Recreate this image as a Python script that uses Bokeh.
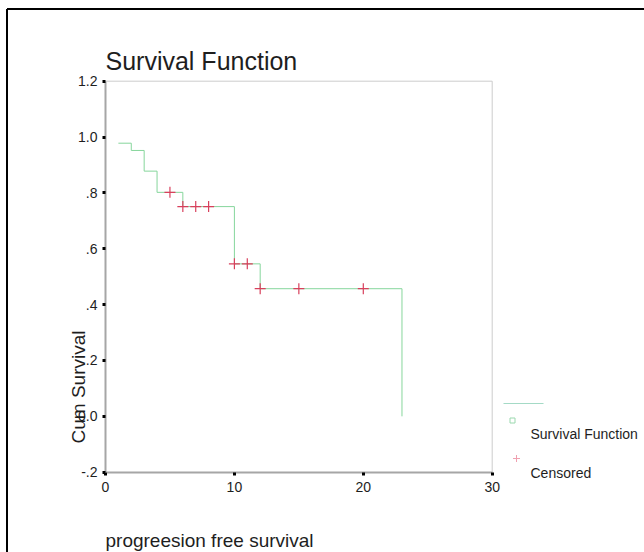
import math
from bokeh.plotting import figure
from bokeh.models import Range1d, FixedTicker, Label
from bokeh.embed import file_html
from bokeh.resources import INLINE

# ---- data ----
step_times = [1, 2, 3, 4, 6, 10, 12, 23]
step_surv = [0.978, 0.952, 0.878, 0.802, 0.751, 0.546, 0.457, 0.0]
cens_times = [5, 6, 7, 8, 10, 11, 12, 15, 20]
cens_surv = [0.802, 0.751, 0.751, 0.751, 0.546, 0.546, 0.457, 0.457, 0.457]
x_ticks = [0, 10, 20, 30]
y_ticks = [-0.2, 0.0, 0.2, 0.4, 0.6, 0.8, 1.0, 1.2]
y_tick_labels = ["-.2", "0.0", ".2", ".4", ".6", ".8", "1.0", "1.2"]
legend_labels = ["Survival Function", "Censored"]
title_text = "Survival Function"
x_title = "progreesion free survival"
y_title = "Cum Survival"

# ---- layout (pixel geometry of the plotting box) ----
W, H = 644, 552
FRAME_L, FRAME_R = 105.0, 491.7
FRAME_T, FRAME_B = 80.7, 471.7
X0, X1 = x_ticks[0], x_ticks[-1]
Y0, Y1 = y_ticks[0], y_ticks[-1]
PXX = (FRAME_R - FRAME_L) / (X1 - X0)
PXY = (FRAME_B - FRAME_T) / (Y1 - Y0)


def dx(px):
    return X0 + (px - FRAME_L) / PXX


def dy(py):
    return Y0 + (FRAME_B - py) / PXY


FONT = "Liberation Sans"
GREEN = "#86d69c"
RED = "#d8405c"
TXT = "#1e1e1e"

p = figure(width=W, height=H, output_backend="svg", toolbar_location=None, title=None,
           x_range=Range1d(dx(0), dx(W)), y_range=Range1d(dy(H), dy(0)),
           min_border=0, min_border_left=0, min_border_right=0,
           min_border_top=0, min_border_bottom=0)
p.grid.visible = False
p.outline_line_color = None
p.background_fill_color = "white"
p.border_fill_color = "white"

p.xaxis.fixed_location = Y0
p.yaxis.fixed_location = X0
p.xaxis.bounds = (X0, X1)
p.yaxis.bounds = (Y0, Y1)
p.xaxis.ticker = FixedTicker(ticks=x_ticks)
p.yaxis.ticker = FixedTicker(ticks=y_ticks)
p.yaxis.major_label_overrides = dict(zip(y_ticks, y_tick_labels))
for ax in (p.xaxis[0], p.yaxis[0]):
    ax.axis_line_color = "#a6a6a6"
    ax.axis_line_width = 2
    ax.major_tick_line_color = "black"
    ax.major_tick_line_width = 3
    ax.major_tick_in = 0
    ax.major_tick_out = 3
    ax.minor_tick_line_color = None
    ax.major_label_text_font = FONT
    ax.major_label_text_font_size = "14px"
    ax.major_label_text_color = TXT
p.xaxis.major_label_standoff = 7
p.yaxis.major_label_standoff = 5

# light box closing the plotting area (top and right sides)
p.segment(x0=[X0, X1], y0=[Y1, Y1], x1=[X1, X1], y1=[Y1, Y0],
          line_color="#cccccc", line_width=1)

# survival curve and censored marks
p.step(step_times, step_surv, mode="after", line_color=GREEN, line_width=1)
p.scatter(cens_times, cens_surv, marker="cross", size=11, line_color=RED, line_width=1.2)

# legend (SPSS style: line sample, then symbols with labels)
p.line([dx(503), dx(543)], [dy(403), dy(403)], line_color="#a4dac6", line_width=1.2)
p.scatter([dx(512)], [dy(420)], marker="square", size=5, fill_color=None,
          line_color="#9ad8ae", line_width=1)
p.scatter([dx(516)], [dy(458)], marker="cross", size=7, line_color="#f0a0b0", line_width=1)
p.add_layout(Label(x=dx(530), y=dy(433), text=legend_labels[0], text_font=FONT,
                   text_font_size="14px", text_color=TXT, text_baseline="alphabetic"))
p.add_layout(Label(x=dx(530), y=dy(472), text=legend_labels[1], text_font=FONT,
                   text_font_size="14px", text_color=TXT, text_baseline="alphabetic"))

# title and axis titles
p.add_layout(Label(x=dx(105), y=dy(60.5), text=title_text, text_font=FONT,
                   text_font_size="25px", text_color=TXT, text_baseline="alphabetic"))
p.add_layout(Label(x=dx(78), y=dy(443), text=y_title, angle=math.pi / 2, text_font=FONT,
                   text_font_size="19px", text_color=TXT, text_baseline="alphabetic",
                   text_align="left"))
p.add_layout(Label(x=dx(105), y=dy(540), text=x_title, text_font=FONT,
                   text_font_size="19px", text_color=TXT, text_baseline="alphabetic"))

# outer black border (top and left edges of the chart box)
p.segment(x0=[dx(6.5), dx(6.5)], y0=[dy(8.5), dy(8.5)], x1=[dx(W + 5), dx(6.5)],
          y1=[dy(8.5), dy(H + 5)], line_color="black", line_width=2)

open("out.html", "w").write(file_html(p, INLINE))
